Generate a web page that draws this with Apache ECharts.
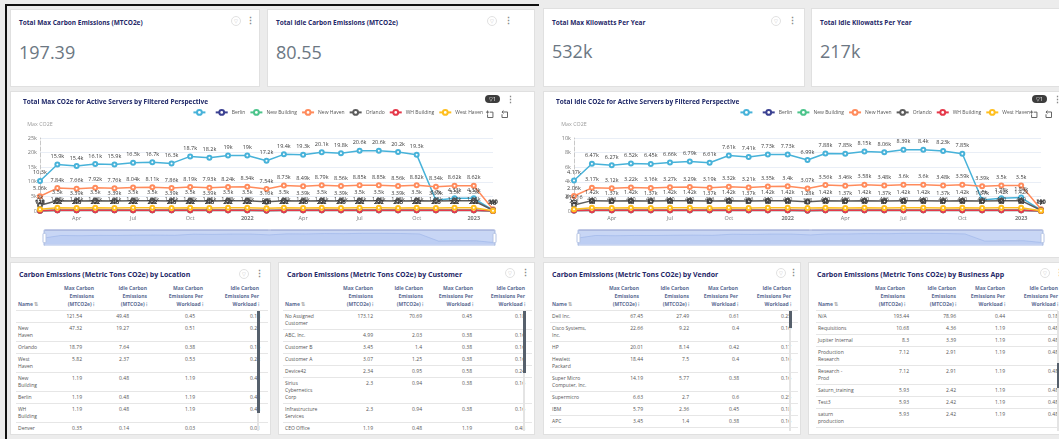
<!DOCTYPE html>
<html>
<head>
<meta charset="utf-8">
<script src="https://cdn.jsdelivr.net/npm/echarts@6/dist/echarts.min.js"></script>
<style>
body { margin: 0; width: 1059px; height: 439px; overflow: hidden; background: #ececec; font-family: "Open Sans", sans-serif; position: relative; }
.panel { position: absolute; background: #fff; border: 1px solid #e0e0e0; box-sizing: border-box; overflow: hidden; }
.ttl { position: absolute; left: 8px; font-weight: bold; color: #1f2868; white-space: nowrap; }
.kpi-val { position: absolute; left: 8px; top: 30px; font-size: 18px; color: #6c7783; }
.chart { position: absolute; left: 0; top: 0; }
.icon-c { position: absolute; width: 8px; height: 8px; border: 1px solid #e2e2e2; border-radius: 50%; font-size: 5px; color: #c8c8c8; text-align: center; line-height: 8px; }
.dots { position: absolute; font-size: 9px; color: #888; font-weight: bold; line-height: 9px; }
.badge { position: absolute; width: 15px; height: 8px; border-radius: 4px; background: #3d3d3d; color: #fff; font-size: 5px; line-height: 8px; text-align: center; }
.hd { position: absolute; font-size: 5px; line-height: 8px; font-weight: bold; color: #5b6b93; text-align: right; white-space: nowrap; }
.cell { position: absolute; font-size: 5px; line-height: 7px; color: #555; white-space: nowrap; }
.nm { position: absolute; font-size: 5px; line-height: 7px; color: #555; }
.sep { position: absolute; height: 1px; background: #e6e6e6; }
.scroll { position: absolute; width: 2px; background: #e4e4e4; }
.thumb { position: absolute; width: 3px; background: #56606c; }
.frame { position: absolute; background: #111; }
</style>
</head>
<body>
<div class="frame" style="left:5px;top:4px;width:2px;height:435px"></div>
<div class="frame" style="left:5px;top:4px;width:534px;height:2px"></div>

<div class="panel" style="left:10px;top:9px;width:250px;height:78px">
  <div class="ttl" style="top:8px;font-size:6.5px">Total Max Carbon Emissions (MTCO2e)</div>
  <div class="kpi-val" id="kpi1"></div>
</div>
<div class="panel" style="left:267px;top:9px;width:268px;height:78px">
  <div class="ttl" style="top:8px;font-size:6.5px">Total Idle Carbon Emissions (MTCO2e)</div>
  <div class="kpi-val" id="kpi2"></div>
</div>
<div class="panel" style="left:543px;top:8px;width:262px;height:79px">
  <div class="ttl" style="top:9px;font-size:6.5px">Total Max Kilowatts Per Year</div>
  <div class="kpi-val" id="kpi3"></div>
</div>
<div class="panel" style="left:811px;top:8px;width:250px;height:79px">
  <div class="ttl" style="top:9px;font-size:6.5px">Total Idle Kilowatts Per Year</div>
  <div class="kpi-val" id="kpi4"></div>
</div>

<div class="panel" style="left:10px;top:91px;width:525px;height:167px">
  <div class="chart" id="max-chart" style="width:525px;height:167px"></div>
</div>
<div class="panel" style="left:543px;top:91px;width:518px;height:167px">
  <div class="chart" id="idle-chart" style="width:518px;height:167px"></div>
</div>

<div class="panel" id="t1" style="left:10px;top:262px;width:261px;height:173px">
  <div class="ttl" style="top:7px;font-size:7px">Carbon Emissions (Metric Tons CO2e) by Location</div>
</div>
<div class="panel" id="t2" style="left:278px;top:262px;width:257px;height:173px">
  <div class="ttl" style="top:7px;font-size:7px">Carbon Emissions (Metric Tons CO2e) by Customer</div>
</div>
<div class="panel" id="t3" style="left:543px;top:262px;width:258px;height:173px">
  <div class="ttl" style="top:7px;font-size:7px">Carbon Emissions (Metric Tons CO2e) by Vendor</div>
</div>
<div class="panel" id="t4" style="left:808px;top:262px;width:253px;height:173px">
  <div class="ttl" style="top:7px;font-size:7px">Carbon Emissions (Metric Tons CO2e) by Business App</div>
</div>

<script>
// KPI values
var kpiValues = ["197.39", "80.55", "532k", "217k"];

// monthly x axis
var months = [
    "2021-02-01", "2021-03-01", "2021-04-01", "2021-05-01", "2021-06-01", "2021-07-01", "2021-08-01",
    "2021-09-01", "2021-10-01", "2021-11-01", "2021-12-01", "2022-01-01", "2022-02-01", "2022-03-01",
    "2022-04-01", "2022-05-01", "2022-06-01", "2022-07-01", "2022-08-01", "2022-09-01", "2022-10-01",
    "2022-11-01", "2022-12-01", "2023-01-01", "2023-02-01"
];
var seriesNames = [" ", "Berlin", "New Building", "New Haven", "Orlando", "WH Building", "West Haven"];

// Max CO2e per location
var maxBlank = [10300, 15900, 15400, 16100, 15900, 16500, 16700, 16300, 18700, 18200, 19000, 19000, 17200, 19400, 19300, 20100, 19800, 20600, 20600, 20200, 19300, 3700, 4330, 4330, 300];
var maxBerlin = [128, 222, 215, 222, 215, 222, 222, 215, 222, 215, 222, 222, 200, 222, 215, 222, 215, 222, 222, 215, 222, 215, 222, 222, 16];
var maxNewBuilding = [128, 222, 215, 222, 215, 222, 222, 215, 222, 215, 222, 222, 200, 222, 215, 222, 215, 222, 222, 215, 222, 215, 222, 222, 16];
var maxNewHaven = [5060, 7840, 7660, 7920, 7760, 8040, 8110, 7860, 8190, 7930, 8240, 8340, 7540, 8730, 8490, 8790, 8560, 8850, 8850, 8560, 8820, 8340, 8620, 8620, 600];
var maxOrlando = [2000, 3500, 3390, 3500, 3390, 3500, 3500, 3390, 3500, 3390, 3500, 3500, 3160, 3500, 3390, 3500, 3390, 3500, 3500, 3390, 3500, 3390, 3500, 3500, 250];
var maxWHBuilding = [128, 222, 215, 222, 215, 222, 222, 215, 222, 215, 222, 222, 200, 222, 215, 222, 215, 222, 222, 215, 222, 215, 222, 222, 16];
var maxWestHaven = [620, 1080, 1050, 1080, 1050, 1080, 1080, 1050, 1080, 1050, 1080, 1080, 975, 1080, 1050, 1080, 1050, 1080, 1080, 1050, 1080, 1050, 1080, 1080, 80];

// Idle CO2e per location
var idleBlank = [4170, 6470, 6270, 6520, 6450, 6660, 6790, 6610, 7610, 7410, 7730, 7730, 6990, 7880, 7850, 8150, 8060, 8390, 8400, 8230, 7850, 1500, 1750, 1840, 120];
var idleBerlin = [52, 90, 87, 90, 87, 90, 90, 87, 90, 87, 90, 90, 81, 90, 87, 90, 87, 90, 90, 87, 90, 87, 90, 90, 7];
var idleNewBuilding = [52, 90, 87, 90, 87, 90, 90, 87, 90, 87, 90, 90, 81, 90, 87, 90, 87, 90, 90, 87, 90, 87, 90, 90, 7];
var idleNewHaven = [2060, 3170, 3120, 3220, 3160, 3270, 3290, 3190, 3320, 3210, 3350, 3400, 3070, 3560, 3460, 3580, 3480, 3600, 3600, 3480, 3590, 3390, 3500, 3500, 250];
var idleOrlando = [814.16, 1420, 1370, 1420, 1370, 1420, 1420, 1370, 1420, 1370, 1420, 1420, 1280, 1420, 1370, 1420, 1370, 1420, 1420, 1370, 1420, 1370, 1420, 1420, 100];
var idleWHBuilding = [52, 90, 87, 90, 87, 90, 90, 87, 90, 87, 90, 90, 81, 90, 87, 90, 87, 90, 90, 87, 90, 87, 90, 90, 7];
var idleWestHaven = [252, 440, 426, 440, 426, 440, 440, 426, 440, 426, 440, 440, 398, 440, 426, 440, 426, 440, 440, 426, 440, 426, 440, 440, 33];

// tables: name, max, idle, max per workload, idle per workload
var tableHeaders = [
    ["Max Carbon", "Emissions", "(MTCO2e) \u205D"],
    ["Idle Carbon", "Emissions", "(MTCO2e) \u205D"],
    ["Max Carbon", "Emissions Per", "Workload \u205D"],
    ["Idle Carbon", "Emissions Per", "Workload \u205D"]
];
var locationRows = [
    ["", 121.54, 49.48, 0.45, 0.18],
    ["New Haven", 47.32, 19.27, 0.51, 0.21],
    ["Orlando", 18.79, 7.64, 0.38, 0.16],
    ["West Haven", 5.82, 2.37, 0.53, 0.22],
    ["New Building", 1.19, 0.48, 1.19, 0.48],
    ["Berlin", 1.19, 0.48, 1.19, 0.48],
    ["WH Building", 1.19, 0.48, 1.19, 0.48],
    ["Denver", 0.35, 0.14, 0.03, 0.01]
];
var customerRows = [
    ["No Assigned Customer", 173.12, 70.69, 0.45, 0.18],
    ["ABC, Inc.", 4.99, 2.03, 0.38, 0.16],
    ["Customer B", 3.45, 1.4, 0.38, 0.16],
    ["Customer A", 3.07, 1.25, 0.38, 0.16],
    ["Device42", 2.34, 0.95, 0.58, 0.24],
    ["Sirius Cybernetics Corp", 2.3, 0.94, 0.38, 0.16],
    ["Infrastructure Services", 2.3, 0.94, 0.38, 0.16],
    ["CEO Office", 1.19, 0.48, 1.19, 0.48]
];
var vendorRows = [
    ["Dell Inc.", 67.45, 27.49, 0.61, 0.25],
    ["Cisco Systems, Inc.", 22.66, 9.22, 0.4, 0.16],
    ["HP", 20.01, 8.14, 0.42, 0.17],
    ["Hewlett Packard", 18.44, 7.5, 0.4, 0.16],
    ["Super Micro Computer, Inc.", 14.19, 5.77, 0.38, 0.16],
    ["Supermicro", 6.63, 2.7, 0.6, 0.25],
    ["IBM", 5.79, 2.36, 0.45, 0.18],
    ["APC", 3.45, 1.4, 0.38, 0.16]
];
var businessAppRows = [
    ["N/A", 193.44, 78.96, 0.44, 0.18],
    ["Requisitions", 10.68, 4.36, 1.19, 0.48],
    ["Jupiter Internal", 8.3, 3.39, 1.19, 0.48],
    ["Production Research", 7.12, 2.91, 1.19, 0.48],
    ["Research - Prod", 7.12, 2.91, 1.19, 0.48],
    ["Saturn_training", 5.93, 2.42, 1.19, 0.48],
    ["Test3", 5.93, 2.42, 1.19, 0.48],
    ["saturn production", 5.93, 2.42, 1.19, 0.48]
];

var colors = ["#47b2d9", "#3b4192", "#4cc48b", "#ff8b5c", "#5c5c5c", "#e5394a", "#ffbf1f"];
var FONT = "Open Sans";

document.getElementById("kpi1").textContent = kpiValues[0];
document.getElementById("kpi2").textContent = kpiValues[1];
document.getElementById("kpi3").textContent = kpiValues[2];
document.getElementById("kpi4").textContent = kpiValues[3];

function fmtK(v) {
    if (v === 0) return "0";
    if (v >= 1000) return parseFloat((v / 1000).toPrecision(3)) + "k";
    return String(Math.round(v * 100) / 100);
}

function buildOption(title, lists, yMax, yStep, lay) {
    var series = lists.map(function (vals, i) {
        return {
            name: seriesNames[i],
            type: "line",
            data: months.map(function (m, j) { return [m, vals[j]]; }),
            symbol: "emptyCircle",
            symbolSize: 4,
            color: colors[i],
            lineStyle: { width: 1.5 },
            label: {
                show: true, position: "top", distance: 2, fontSize: 5.5, color: "#3a3a3a",
                fontFamily: FONT, formatter: function (p) { return fmtK(p.value[1]); }
            }
        };
    });
    return {
        animation: false,
        textStyle: { fontFamily: FONT },
        title: { text: title, left: 7, top: 2, textStyle: { fontSize: 6.5, fontWeight: "bold", color: "#1f2868", fontFamily: FONT } },
        legend: {
            data: seriesNames, right: lay.legendRight, top: 12, itemWidth: 12, itemHeight: 6, itemGap: 4,
            textStyle: { fontSize: 5, color: "#555", fontFamily: FONT, padding: [0, 0, 0, -1] }
        },
        toolbox: {
            right: lay.toolRight, top: 16, itemSize: 7, itemGap: 4, padding: 0,
            iconStyle: { borderColor: "#666" },
            feature: { dataZoom: { title: { zoom: "", back: "" } } }
        },
        grid: { left: lay.gridLeft, right: lay.gridRight, top: 46, bottom: 48, outerBoundsMode: "none" },
        xAxis: {
            type: "time", min: months[0], max: months[months.length - 1],
            axisLine: { lineStyle: { color: "#d5d5d5" } },
            axisTick: { show: false },
            splitLine: { show: false },
            axisLabel: { fontSize: 5.5, color: "#777", margin: 4, fontFamily: FONT }
        },
        yAxis: {
            type: "value", min: 0, max: yMax, interval: yStep,
            name: "Max CO2E", nameGap: 11,
            nameTextStyle: { fontSize: 5.3, color: "#999", fontFamily: FONT },
            axisLine: { show: true, lineStyle: { color: "#c8c8c8", type: "dashed" } },
            axisLabel: { fontSize: 5.5, color: "#777", margin: 3, formatter: fmtK, fontFamily: FONT },
            splitLine: { lineStyle: { color: "#e9eef6" } }
        },
        dataZoom: [{
            type: "slider", left: lay.gridLeft + 1, right: lay.gridRight, top: 137, height: 15,
            showDetail: false, borderColor: "#ccd7ef", backgroundColor: "#eef2fc",
            fillerColor: "rgba(120,155,230,0.32)",
            dataBackground: { lineStyle: { color: "#b8c8ea", width: 0.5 }, areaStyle: { color: "#cfdaf3" } },
            selectedDataBackground: { lineStyle: { color: "#9fb6e6", width: 0.5 }, areaStyle: { color: "#b9cbf1" } },
            handleSize: "100%", moveHandleSize: 2,
            handleStyle: { color: "#fff", borderColor: "#b5c4e4" }
        }],
        series: series
    };
}

function initChart(containerId, option) {
    var chartDom = document.getElementById(containerId);
    if (chartDom) {
        var myChart = echarts.init(chartDom);
        myChart.setOption(option);
        window.addEventListener("resize", function () {
            myChart.resize();
        });
    }
}

// Max CO2e - Line Chart
initChart("max-chart", buildOption(
    "Total Max CO2e for Active Servers by Filtered Perspective",
    [maxBlank, maxBerlin, maxNewBuilding, maxNewHaven, maxOrlando, maxWHBuilding, maxWestHaven],
    25000, 5000,
    { gridLeft: 29, gridRight: 43, legendRight: 48, toolRight: 26 }
));

// Idle CO2e - Line Chart
initChart("idle-chart", buildOption(
    "Total Idle CO2e for Active Servers by Filtered Perspective",
    [idleBlank, idleBerlin, idleNewBuilding, idleNewHaven, idleOrlando, idleWHBuilding, idleWestHaven],
    10000, 2000,
    { gridLeft: 30, gridRight: 21, legendRight: 27, toolRight: 8 }
));

// tables
function buildTable(id, rows, cfg) {
    var panel = document.getElementById(id);
    var pw = panel.clientWidth;
    function el(cls, css, html) {
        var d = document.createElement("div");
        d.className = cls;
        d.style.cssText = css;
        d.innerHTML = html;
        panel.appendChild(d);
        return d;
    }
    el("hd", "left:" + cfg.nameX + "px;top:37px;text-align:left", "Name <span style='color:#aaa'>\u21C5</span>");
    tableHeaders.forEach(function (h, i) {
        el("hd", "right:" + (pw - cfg.headX[i]) + "px;top:21px", h.join("<br>"));
    });
    var y = 47;
    el("sep", "left:" + (cfg.nameX - 2) + "px;width:" + (pw - cfg.nameX) + "px;top:" + y + "px", "");
    rows.forEach(function (r) {
        var nm = el("nm", "left:" + cfg.nameX + "px;top:" + (y + 3) + "px;width:" + cfg.nameW + "px", r[0] || "&nbsp;");
        var h = Math.max(nm.offsetHeight, 7) + 5;
        for (var i = 1; i < 5; i++) {
            el("cell", "right:" + (pw - cfg.valX[i - 1]) + "px;top:" + (y + 3) + "px", String(r[i]));
        }
        y += h;
        el("sep", "left:" + (cfg.nameX - 2) + "px;width:" + (pw - cfg.nameX) + "px;top:" + y + "px", "");
    });
    el("scroll", "left:" + cfg.barX + "px;top:48px;height:120px", "");
    el("thumb", "left:" + (cfg.barX - 0.5) + "px;top:" + cfg.thumb[0] + "px;height:" + cfg.thumb[1] + "px", "");
}

buildTable("t1", locationRows, { nameX: 7, nameW: 22, headX: [83, 136, 192, 248], valX: [71, 118, 184, 249], barX: 246, thumb: [48, 102] });
buildTable("t2", customerRows, { nameX: 6, nameW: 38, headX: [94, 144, 194, 246], valX: [94, 143, 193, 246], barX: 244, thumb: [48, 62] });
buildTable("t3", vendorRows, { nameX: 8, nameW: 37, headX: [95, 145, 194, 247], valX: [99, 145, 195, 247], barX: 245, thumb: [48, 17] });
buildTable("t4", businessAppRows, { nameX: 9, nameW: 36, headX: [96, 147, 196, 249], valX: [100, 147, 196, 249], barX: 248, thumb: [100, 25] });

// header icons (filter circle, menu dots, filter badge)
function addIcon(cls, x, y, html) {
    var d = document.createElement("div");
    d.className = cls;
    d.style.left = x + "px";
    d.style.top = y + "px";
    d.innerHTML = html;
    document.body.appendChild(d);
}
[[231, 16], [487, 16], [771, 16], [239, 269], [505, 268], [776, 268], [1040, 268]].forEach(function (p) {
    addIcon("icon-c", p[0], p[1], "\u25BD");
});
[[246, 16], [504, 16], [788, 16], [255, 269], [521, 268], [789, 268], [1055, 268]].forEach(function (p) {
    addIcon("dots", p[0], p[1], "\u22EE");
});
addIcon("badge", 485, 95, "\u25BD1");
addIcon("dots", 506, 95, "\u22EE");
addIcon("badge", 1032, 95, "\u25BD1");
addIcon("dots", 1053, 95, "\u22EE");
</script>
</body>
</html>
